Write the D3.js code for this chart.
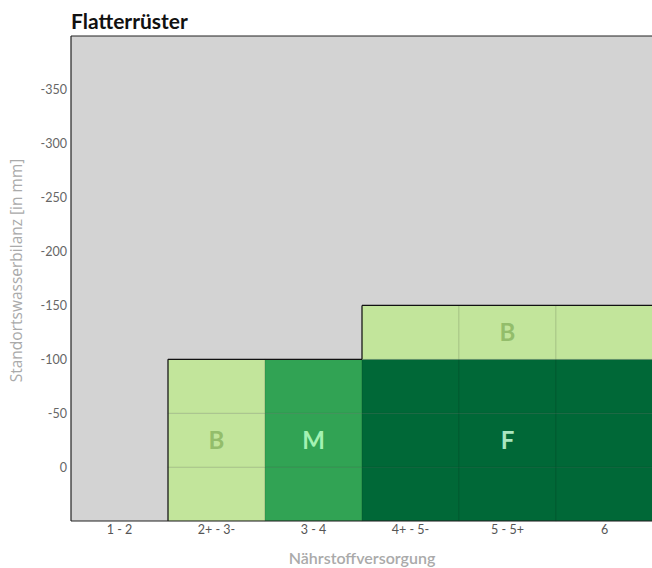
<!DOCTYPE html>
<html>
<head>
<meta charset="utf-8">
<script src="https://cdn.jsdelivr.net/npm/d3@7"></script>
<style>
  html, body { margin: 0; padding: 0; background: #fff; }
  svg { display: block; font-family: Lato, "Open Sans", sans-serif; }
</style>
</head>
<body>
<svg id="chart" width="652" height="568"></svg>
<script>
// Nutrient supply classes along the x axis
const categories = ["1 - 2", "2+ - 3-", "3 - 4", "4+ - 5-", "5 - 5+", "6"];

// Water balance bands (mm), each 50 mm tall
const bandTop = [50, 0, -50, -100];
const bandBottom = [0, -50, -100, -150];

// Suitability class of each cell: one row per band, one entry per category
const bandClasses = [
  [null, "B", "M", "F", "F", "F"],
  [null, "B", "M", "F", "F", "F"],
  [null, "B", "M", "F", "F", "F"],
  [null, null, null, "B", "B", "B"]
];

// Region labels: first/last category covered and centre value on the y axis
const labelText = ["B", "M", "F", "B"];
const labelFrom = [1, 2, 3, 3];
const labelTo = [1, 2, 5, 5];
const labelValue = [-25, -25, -25, -125];

const yTicks = [0, -50, -100, -150, -200, -250, -300, -350];

const fillColor = { B: "#c2e59b", M: "#31a354", F: "#006837" };
const textColor = { B: "#93bd6b", M: "#a3f2b2", F: "#a9e6c0" };

const margin = { left: 71, top: 36, right: -1, bottom: 47 };
const W = 652, H = 568;
const svg = d3.select("#chart");

const x = d3.scaleBand().domain(categories).range([margin.left, W - margin.right]).padding(0);
const y = d3.scaleLinear().domain([50, -400]).range([H - margin.bottom, margin.top]);

// Background of the plot area
svg.append("rect")
  .attr("x", x.range()[0]).attr("y", y(-400))
  .attr("width", x.range()[1] - x.range()[0])
  .attr("height", y(50) - y(-400))
  .attr("fill", "#d3d3d3");

// Cells
const cells = [];
bandClasses.forEach((row, bi) => row.forEach((cls, ci) => {
  if (cls) cells.push({ bi, ci, cls });
}));

svg.append("g").selectAll("rect").data(cells).join("rect")
  .attr("x", d => x(categories[d.ci]))
  .attr("y", d => Math.min(y(bandTop[d.bi]), y(bandBottom[d.bi])))
  .attr("width", x.bandwidth())
  .attr("height", d => Math.abs(y(bandTop[d.bi]) - y(bandBottom[d.bi])))
  .attr("fill", d => fillColor[d.cls])
  .attr("stroke", "rgba(0,0,0,0.1)")
  .attr("stroke-width", 1);

// Outline around the occupied area (edges facing an empty cell)
const filled = (bi, ci) => bi >= 0 && bi < bandClasses.length && ci >= 0 && ci < categories.length && !!bandClasses[bi][ci];
const outline = d3.path();
cells.forEach(d => {
  const x0 = x(categories[d.ci]), x1 = x0 + x.bandwidth();
  const yA = y(bandTop[d.bi]), yB = y(bandBottom[d.bi]);
  const yLow = Math.max(yA, yB), yHigh = Math.min(yA, yB);
  if (!filled(d.bi, d.ci - 1)) { outline.moveTo(x0, yLow); outline.lineTo(x0, yHigh); }
  if (!filled(d.bi + 1, d.ci)) { outline.moveTo(x0, yHigh); outline.lineTo(x1, yHigh); }
});
svg.append("path").attr("d", outline.toString())
  .attr("fill", "none").attr("stroke", "#111").attr("stroke-width", 1.2);

// Region labels
svg.append("g").selectAll("text").data(labelText).join("text")
  .attr("x", (d, i) => (x(categories[labelFrom[i]]) + x(categories[labelTo[i]]) + x.bandwidth()) / 2)
  .attr("y", (d, i) => y(labelValue[i]))
  .attr("dy", "0.36em")
  .attr("text-anchor", "middle")
  .attr("font-size", 24)
  .attr("font-weight", 700)
  .attr("fill", d => textColor[d])
  .text(d => d);

// Frame
const frame = svg.append("g").attr("stroke", "#222").attr("stroke-width", 1.2);
frame.append("line").attr("x1", margin.left).attr("x2", W).attr("y1", y(-400)).attr("y2", y(-400));
frame.append("line").attr("x1", margin.left).attr("x2", margin.left).attr("y1", y(-400)).attr("y2", y(50));
frame.append("line").attr("x1", margin.left).attr("x2", W).attr("y1", y(50)).attr("y2", y(50));

// Axes
const yAxis = svg.append("g").attr("transform", `translate(${margin.left},0)`)
  .call(d3.axisLeft(y).tickValues(yTicks).tickFormat(d => String(d)).tickSize(0).tickPadding(4));
yAxis.select(".domain").remove();
yAxis.selectAll("text").attr("font-size", 12.5).attr("fill", "#666").attr("font-family", "Lato, sans-serif");

const xAxis = svg.append("g").attr("transform", `translate(0,${y(50)})`)
  .call(d3.axisBottom(x).tickSize(0).tickPadding(4));
xAxis.select(".domain").remove();
xAxis.selectAll("text").attr("font-size", 12.5).attr("fill", "#555").attr("font-family", "Lato, sans-serif");

// Titles
svg.append("text").attr("x", margin.left).attr("y", 29)
  .attr("font-size", 21).attr("font-weight", 700).attr("fill", "#111")
  .text("Flatterrüster");

svg.append("text").attr("x", (x.range()[0] + x.range()[1]) / 2).attr("y", 564)
  .attr("text-anchor", "middle").attr("font-size", 16).attr("font-weight", 600).attr("fill", "#aaa")
  .text("Nährstoffversorgung");

svg.append("text")
  .attr("transform", `translate(22,${(y(50) + y(-400)) / 2 - 8}) rotate(-90)`)
  .attr("text-anchor", "middle").attr("font-size", 15.5).attr("fill", "#aaa")
  .attr("font-family", "'Open Sans', sans-serif")
  .text("Standortswasserbilanz [in mm]");
</script>
</body>
</html>
